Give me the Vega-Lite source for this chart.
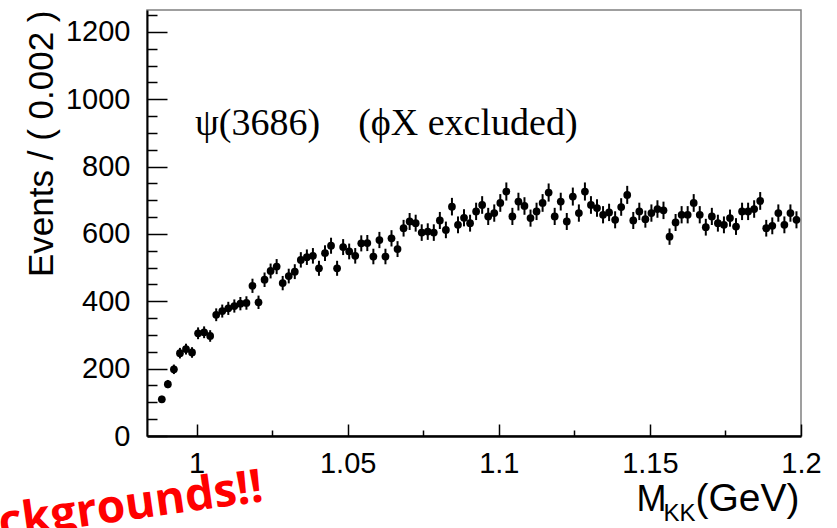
{
  "$schema": "https://vega.github.io/schema/vega-lite/v6.json",
  "width": 654,
  "height": 426,
  "autosize": {"type": "none"},
  "padding": {"left": 147, "top": 10, "right": 36, "bottom": 92},
  "background": "white",
  "config": {
    "view": {"stroke": "#808080", "strokeWidth": 1.5},
    "font": "Liberation Sans"
  },
  "datasets": {
    "bins": [
      {"m": 0.9885, "n": 109, "e": 10.4}, {"m": 0.9905, "n": 154, "e": 12.4}, {"m": 0.9925, "n": 198, "e": 14.1},
      {"m": 0.9945, "n": 246, "e": 15.7}, {"m": 0.9965, "n": 258, "e": 16.1}, {"m": 0.9985, "n": 248, "e": 15.7},
      {"m": 1.0005, "n": 305, "e": 17.5}, {"m": 1.0025, "n": 308, "e": 17.5}, {"m": 1.0045, "n": 297, "e": 17.2},
      {"m": 1.0065, "n": 360, "e": 19.0}, {"m": 1.0085, "n": 371, "e": 19.3}, {"m": 1.0105, "n": 379, "e": 19.5},
      {"m": 1.0125, "n": 386, "e": 19.6}, {"m": 1.0145, "n": 393, "e": 19.8}, {"m": 1.0165, "n": 395, "e": 19.9},
      {"m": 1.0185, "n": 446, "e": 21.1}, {"m": 1.0205, "n": 397, "e": 19.9}, {"m": 1.0225, "n": 464, "e": 21.5},
      {"m": 1.0245, "n": 490, "e": 22.1}, {"m": 1.0265, "n": 503, "e": 22.4}, {"m": 1.0285, "n": 454, "e": 21.3},
      {"m": 1.0305, "n": 475, "e": 21.8}, {"m": 1.0325, "n": 488, "e": 22.1}, {"m": 1.0345, "n": 523, "e": 22.9},
      {"m": 1.0365, "n": 531, "e": 23.0}, {"m": 1.0385, "n": 535, "e": 23.1}, {"m": 1.0405, "n": 498, "e": 22.3},
      {"m": 1.0425, "n": 543, "e": 23.3}, {"m": 1.0445, "n": 565, "e": 23.8}, {"m": 1.0465, "n": 498, "e": 22.3},
      {"m": 1.0485, "n": 561, "e": 23.7}, {"m": 1.0505, "n": 548, "e": 23.4}, {"m": 1.0525, "n": 535, "e": 23.1},
      {"m": 1.0545, "n": 572, "e": 23.9}, {"m": 1.0565, "n": 573, "e": 23.9}, {"m": 1.0585, "n": 533, "e": 23.1},
      {"m": 1.0605, "n": 582, "e": 24.1}, {"m": 1.0625, "n": 533, "e": 23.1}, {"m": 1.0645, "n": 587, "e": 24.2},
      {"m": 1.0665, "n": 555, "e": 23.6}, {"m": 1.0685, "n": 617, "e": 24.8}, {"m": 1.0705, "n": 637, "e": 25.2},
      {"m": 1.0725, "n": 632, "e": 25.1}, {"m": 1.0745, "n": 604, "e": 24.6}, {"m": 1.0765, "n": 607, "e": 24.6},
      {"m": 1.0785, "n": 604, "e": 24.6}, {"m": 1.0805, "n": 640, "e": 25.3}, {"m": 1.0825, "n": 612, "e": 24.7},
      {"m": 1.0845, "n": 681, "e": 26.1}, {"m": 1.0865, "n": 627, "e": 25.0}, {"m": 1.0885, "n": 648, "e": 25.5},
      {"m": 1.0905, "n": 632, "e": 25.1}, {"m": 1.0925, "n": 667, "e": 25.8}, {"m": 1.0945, "n": 686, "e": 26.2},
      {"m": 1.0965, "n": 652, "e": 25.5}, {"m": 1.0985, "n": 662, "e": 25.7}, {"m": 1.1005, "n": 692, "e": 26.3},
      {"m": 1.1025, "n": 726, "e": 26.9}, {"m": 1.1045, "n": 652, "e": 25.5}, {"m": 1.1065, "n": 696, "e": 26.4},
      {"m": 1.1085, "n": 683, "e": 26.1}, {"m": 1.1105, "n": 647, "e": 25.4}, {"m": 1.1125, "n": 667, "e": 25.8},
      {"m": 1.1145, "n": 692, "e": 26.3}, {"m": 1.1165, "n": 723, "e": 26.9}, {"m": 1.1185, "n": 652, "e": 25.5},
      {"m": 1.1205, "n": 696, "e": 26.4}, {"m": 1.1225, "n": 637, "e": 25.2}, {"m": 1.1245, "n": 711, "e": 26.7},
      {"m": 1.1265, "n": 662, "e": 25.7}, {"m": 1.1285, "n": 726, "e": 26.9}, {"m": 1.1305, "n": 686, "e": 26.2},
      {"m": 1.1325, "n": 677, "e": 26.0}, {"m": 1.1345, "n": 657, "e": 25.6}, {"m": 1.1365, "n": 664, "e": 25.8},
      {"m": 1.1385, "n": 642, "e": 25.3}, {"m": 1.1405, "n": 680, "e": 26.1}, {"m": 1.1425, "n": 716, "e": 26.8},
      {"m": 1.1445, "n": 640, "e": 25.3}, {"m": 1.1465, "n": 667, "e": 25.8}, {"m": 1.1485, "n": 644, "e": 25.4},
      {"m": 1.1505, "n": 662, "e": 25.7}, {"m": 1.1525, "n": 674, "e": 26.0}, {"m": 1.1545, "n": 670, "e": 25.9},
      {"m": 1.1565, "n": 592, "e": 24.3}, {"m": 1.1585, "n": 634, "e": 25.2}, {"m": 1.1605, "n": 657, "e": 25.6},
      {"m": 1.1625, "n": 657, "e": 25.6}, {"m": 1.1645, "n": 692, "e": 26.3}, {"m": 1.1665, "n": 657, "e": 25.6},
      {"m": 1.1685, "n": 620, "e": 24.9}, {"m": 1.1705, "n": 652, "e": 25.5}, {"m": 1.1725, "n": 632, "e": 25.1},
      {"m": 1.1745, "n": 627, "e": 25.0}, {"m": 1.1765, "n": 647, "e": 25.4}, {"m": 1.1785, "n": 622, "e": 24.9},
      {"m": 1.1805, "n": 667, "e": 25.8}, {"m": 1.1825, "n": 667, "e": 25.8}, {"m": 1.1845, "n": 674, "e": 26.0},
      {"m": 1.1865, "n": 698, "e": 26.4}, {"m": 1.1885, "n": 617, "e": 24.8}, {"m": 1.1905, "n": 624, "e": 25.0},
      {"m": 1.1925, "n": 662, "e": 25.7}, {"m": 1.1945, "n": 627, "e": 25.0}, {"m": 1.1965, "n": 662, "e": 25.7},
      {"m": 1.1985, "n": 642, "e": 25.3}
    ],
    "one": [{}]
  },
  "layer": [
    {
      "data": {"name": "bins"},
      "mark": {"type": "errorbar", "color": "black", "thickness": 2},
      "encoding": {
        "x": {
          "field": "m", "type": "quantitative",
          "scale": {"domain": [0.9836, 1.2], "nice": false, "zero": false},
          "axis": {
            "orient": "bottom", "title": null,
            "values": [1, 1.05, 1.1, 1.15, 1.2],
            "labelExpr": "datum.value == 1 ? '1' : format(datum.value, '.3~f')",
            "tickSize": -12, "tickWidth": 1.5, "tickColor": "black",
            "domainColor": "black", "domainWidth": 2.5,
            "labelFontSize": 29, "labelColor": "black", "labelPadding": 25,
            "labelFlush": false, "labelOverlap": false, "grid": false
          }
        },
        "y": {
          "field": "n", "type": "quantitative",
          "scale": {"domain": [0, 1265], "nice": false},
          "axis": {
            "orient": "left", "title": "Events / ( 0.002 )",
            "values": [0, 200, 400, 600, 800, 1000, 1200],
            "format": "d",
            "tickSize": -20, "tickWidth": 1.5, "tickColor": "black",
            "domainColor": "black", "domainWidth": 2,
            "labelFontSize": 29, "labelColor": "black", "labelPadding": 37,
            "labelFlush": false, "labelOverlap": false, "grid": false,
            "titleFontSize": 35, "titleFontWeight": "normal", "titleColor": "black",
            "titleAnchor": "end", "titlePadding": 6
          }
        },
        "yError": {"field": "e"}
      }
    },
    {
      "data": {"name": "bins"},
      "mark": {"type": "point", "shape": "circle", "filled": true, "color": "black", "opacity": 1, "size": 60},
      "encoding": {
        "x": {
          "field": "m", "type": "quantitative",
          "axis": {
            "orient": "bottom", "title": null, "labels": false, "domain": false, "grid": false,
            "values": [1.025, 1.075, 1.125, 1.175],
            "tickSize": -6, "tickWidth": 1.5, "tickColor": "black"
          }
        },
        "y": {
          "field": "n", "type": "quantitative",
          "axis": {
            "orient": "left", "title": null, "labels": false, "domain": false, "grid": false,
            "values": [50, 100, 150, 250, 300, 350, 450, 500, 550, 650, 700, 750, 850, 900, 950, 1050, 1100, 1150, 1250],
            "tickSize": -10, "tickWidth": 1.5, "tickColor": "black"
          }
        }
      }
    },
    {
      "data": {"name": "one"},
      "mark": {"type": "text", "font": "Liberation Serif", "fontSize": 38, "align": "left", "baseline": "alphabetic", "color": "black"},
      "encoding": {
        "x": {"datum": 0.9995, "type": "quantitative", "axis": null},
        "y": {"datum": 894, "type": "quantitative", "axis": null},
        "text": {"value": "ψ(3686)\u00a0\u00a0\u00a0\u00a0(ϕX excluded)"}
      }
    },
    {
      "data": {"name": "one"},
      "mark": {"type": "text", "fontSize": 39, "align": "right", "baseline": "alphabetic", "color": "black", "clip": false},
      "encoding": {
        "x": {"datum": 1.1995, "type": "quantitative", "axis": null},
        "y": {"datum": -223, "type": "quantitative", "axis": null},
        "text": {"value": "(GeV)"}
      }
    },
    {
      "data": {"name": "one"},
      "mark": {"type": "text", "fontSize": 24, "align": "right", "baseline": "alphabetic", "color": "black", "clip": false},
      "encoding": {
        "x": {"datum": 1.1651, "type": "quantitative", "axis": null},
        "y": {"datum": -253, "type": "quantitative", "axis": null},
        "text": {"value": "KK"}
      }
    },
    {
      "data": {"name": "one"},
      "mark": {"type": "text", "fontSize": 36, "align": "right", "baseline": "alphabetic", "color": "black", "clip": false},
      "encoding": {
        "x": {"datum": 1.1555, "type": "quantitative", "axis": null},
        "y": {"datum": -223, "type": "quantitative", "axis": null},
        "text": {"value": "M"}
      }
    },
    {
      "data": {"name": "one"},
      "mark": {"type": "text", "font": "Open Sans", "fontWeight": "bold", "fontSize": 46, "angle": -8, "align": "left", "baseline": "alphabetic", "color": "#ff0000", "clip": false},
      "encoding": {
        "x": {"datum": 0.9352, "type": "quantitative", "axis": null},
        "y": {"datum": -303, "type": "quantitative", "axis": null},
        "text": {"value": "ckgrounds!!"}
      }
    }
  ],
  "resolve": {"axis": {"x": "independent", "y": "independent"}}
}
